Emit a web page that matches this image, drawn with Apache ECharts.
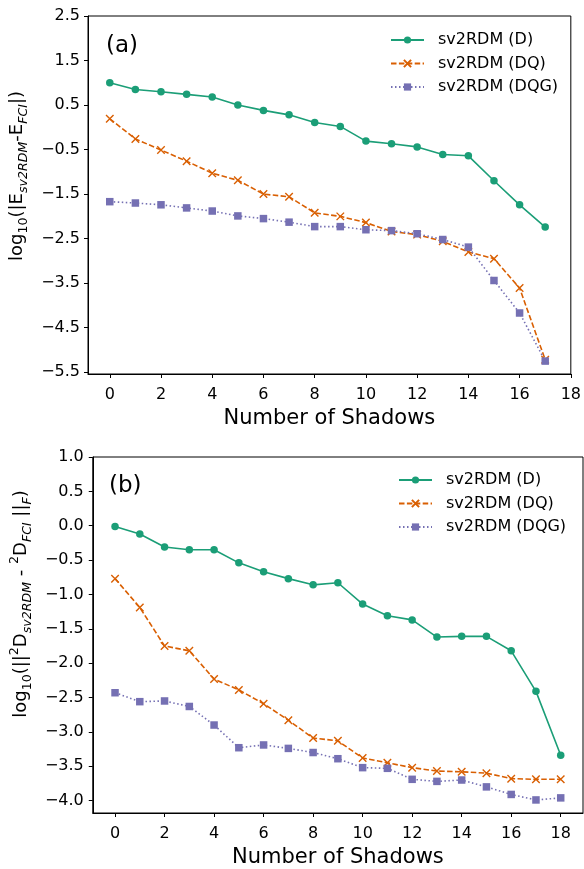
<!DOCTYPE html>
<html>
<head>
<meta charset="utf-8">
<script src="https://cdn.jsdelivr.net/npm/echarts@6/dist/echarts.min.js"></script>
<style>html,body{margin:0;padding:0;background:#fff;}#c{width:584px;height:869px;}</style>
</head>
<body>
<div id="c"></div>
<script>
// Panel (a): log10(|E_sv2RDM - E_FCI|)
const shadowsA = [0,1,2,3,4,5,6,7,8,9,10,11,12,13,14,15,16,17];
const energyD   = [1.00,0.85,0.80,0.74,0.68,0.50,0.38,0.28,0.11,0.02,-0.31,-0.37,-0.44,-0.61,-0.64,-1.20,-1.74,-2.24];
const energyDQ  = [0.19,-0.26,-0.51,-0.76,-1.03,-1.19,-1.50,-1.56,-1.92,-2.00,-2.14,-2.34,-2.41,-2.56,-2.80,-2.95,-3.61,-5.22];
const energyDQG = [-1.67,-1.70,-1.74,-1.81,-1.88,-1.99,-2.05,-2.13,-2.23,-2.23,-2.30,-2.32,-2.39,-2.52,-2.69,-3.44,-4.17,-5.25];
// Panel (b): log10(||2D_sv2RDM - 2D_FCI||_F)
const shadowsB = [0,1,2,3,4,5,6,7,8,9,10,11,12,13,14,15,16,17,18];
const rdmD   = [-0.01,-0.12,-0.31,-0.35,-0.35,-0.54,-0.67,-0.77,-0.86,-0.83,-1.14,-1.31,-1.37,-1.62,-1.61,-1.61,-1.82,-2.41,-3.34];
const rdmDQ  = [-0.77,-1.19,-1.75,-1.82,-2.23,-2.39,-2.59,-2.83,-3.09,-3.13,-3.38,-3.45,-3.52,-3.57,-3.58,-3.60,-3.68,-3.69,-3.69];
const rdmDQG = [-2.43,-2.56,-2.55,-2.63,-2.90,-3.23,-3.19,-3.24,-3.30,-3.39,-3.52,-3.53,-3.69,-3.72,-3.70,-3.80,-3.91,-3.99,-3.96];
// Tick labels
const xTicks = [0,2,4,6,8,10,12,14,16,18];
const yTicksA = [-5.5,-4.5,-3.5,-2.5,-1.5,-0.5,0.5,1.5,2.5];
const yTicksB = [-4.0,-3.5,-3.0,-2.5,-2.0,-1.5,-1.0,-0.5,0.0,0.5,1.0];
const seriesNames = ['sv2RDM (D)','sv2RDM (DQ)','sv2RDM (DQG)'];

const FONT = 'DejaVu Sans';
const cGreen = '#1b9e77', cOrange = '#d95f02', cPurple = '#7570b3';
const fmt = v => (v < 0 ? '\u2212' : '') + Math.abs(v).toFixed(1);
const pairs = (xs, ys) => xs.map((x, i) => [x, ys[i]]);

function xAxisCfg(grid, min, max) {
  return {
    type: 'value', gridIndex: grid, min: min, max: max,
    name: 'Number of Shadows', nameLocation: 'middle', nameGap: 34,
    nameTextStyle: {fontFamily: FONT, fontSize: 21, color: '#000'},
    axisLine: {show: true, onZero: false, lineStyle: {color: '#000', width: 1}},
    axisTick: {show: true, length: 4, customValues: xTicks, lineStyle: {color: '#000', width: 1}},
    axisLabel: {customValues: xTicks, fontFamily: FONT, fontSize: 16, color: '#000', margin: 13},
    splitLine: {show: false}
  };
}
const richName = {
  n: {fontFamily: FONT, fontSize: 18, color: '#000', lineHeight: 26, verticalAlign: 'middle'},
  s: {fontFamily: FONT, fontSize: 12.6, color: '#000', lineHeight: 14, verticalAlign: 'bottom'},
  si: {fontFamily: FONT, fontSize: 12.6, fontStyle: 'italic', color: '#000', lineHeight: 14, verticalAlign: 'bottom'},
  p: {fontFamily: FONT, fontSize: 12.6, color: '#000', lineHeight: 14, verticalAlign: 'top'}
};
function yAxisCfg(grid, min, max, ticks, name, pad, labelMargin) {
  return {
    type: 'value', gridIndex: grid, min: min, max: max,
    name: name, nameLocation: 'middle', nameGap: 47, nameRotate: 90,
    nameTextStyle: {fontFamily: FONT, fontSize: 18, color: '#000', padding: [0, 0, 0, pad], rich: richName},
    axisLine: {show: true, onZero: false, lineStyle: {color: '#000', width: 1}},
    axisTick: {show: true, length: 4, customValues: ticks, lineStyle: {color: '#000', width: 1}},
    axisLabel: {customValues: ticks, formatter: fmt, fontFamily: FONT, fontSize: 16, color: '#000', margin: labelMargin},
    splitLine: {show: false}
  };
}
function mkSeries(name, data, xi, color, kind) {
  const s = {
    name: name, type: 'line', xAxisIndex: xi, yAxisIndex: xi, data: data,
    color: color, animation: false, z: 3,
    lineStyle: {color: color, width: 1.6},
    itemStyle: {color: color}
  };
  if (kind === 'D') { s.symbol = 'circle'; s.symbolSize = 7.5; }
  if (kind === 'DQ') {
    s.symbol = 'path://M0,0L10,10M10,0L0,10'; s.symbolSize = 7.5;
    s.lineStyle.type = [5.5, 2.4];
    s.itemStyle = {color: color, borderColor: color, borderWidth: 1.4};
  }
  if (kind === 'DQG') {
    s.symbol = 'rect'; s.symbolSize = 7.5;
    s.lineStyle.type = [1.5, 2.5];
  }
  return s;
}
function legendCfg(left, top) {
  return {
    data: seriesNames, orient: 'vertical', left: left, top: top, padding: 0,
    itemWidth: 33, itemHeight: 9, itemGap: 7.5,
    textStyle: {fontFamily: FONT, fontSize: 16, color: '#000', padding: [0, 0, 0, 9]},
    selectedMode: false
  };
}

const chart = echarts.init(document.getElementById('c'), null, {renderer: 'canvas'});
chart.setOption({
  backgroundColor: '#fff',
  animation: false,
  title: [
    {text: '(a)', left: 101, top: 30, textStyle: {fontFamily: FONT, fontSize: 23, fontWeight: 'normal', color: '#000'}},
    {text: '(b)', left: 104, top: 470, textStyle: {fontFamily: FONT, fontSize: 23, fontWeight: 'normal', color: '#000'}}
  ],
  grid: [
    {left: 88, top: 16, width: 485, height: 358, show: true, borderColor: '#000', borderWidth: 1, backgroundColor: 'transparent'},
    {left: 92, top: 457, width: 491, height: 356, show: true, borderColor: '#000', borderWidth: 1, backgroundColor: 'transparent'}
  ],
  legend: [legendCfg(390, 32), legendCfg(398, 472)],
  xAxis: [xAxisCfg(0, -0.85, 18), xAxisCfg(1, -0.9, 18.9)],
  yAxis: [
    yAxisCfg(0, -5.54, 2.5, yTicksA, '{n|log}{s|10}{n|(|E}{si|sv2RDM}{n|-E}{si|FCI}{n||)}', 38, 8),
    yAxisCfg(1, -4.18, 1.0, yTicksB, '{n|log}{s|10}{n|(||}{p|2}{n|D}{si|sv2RDM}{n| - }{p|2}{n|D}{si|FCI}{n| ||}{si|F}{n|)}', 62, 9)
  ],
  series: [
    mkSeries(seriesNames[0], pairs(shadowsA, energyD), 0, cGreen, 'D'),
    mkSeries(seriesNames[1], pairs(shadowsA, energyDQ), 0, cOrange, 'DQ'),
    mkSeries(seriesNames[2], pairs(shadowsA, energyDQG), 0, cPurple, 'DQG'),
    mkSeries(seriesNames[0], pairs(shadowsB, rdmD), 1, cGreen, 'D'),
    mkSeries(seriesNames[1], pairs(shadowsB, rdmDQ), 1, cOrange, 'DQ'),
    mkSeries(seriesNames[2], pairs(shadowsB, rdmDQG), 1, cPurple, 'DQG')
  ]
});
</script>
</body>
</html>
